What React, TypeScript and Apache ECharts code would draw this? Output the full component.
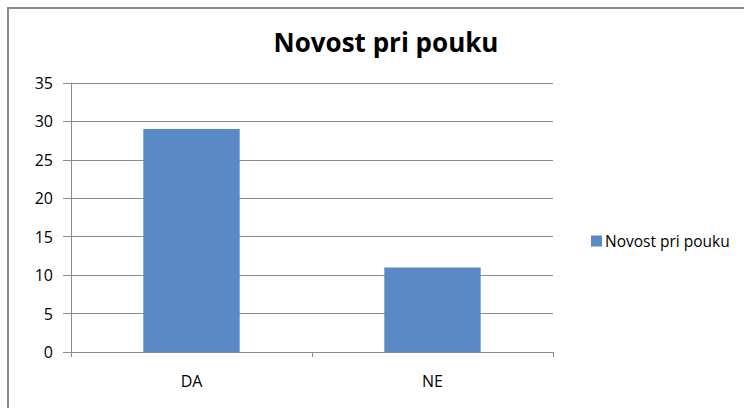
import React, { useEffect, useRef } from "react";
import * as echarts from "echarts";

const titleText = "Novost pri pouku";
const categories = ["DA", "NE"];
const seriesName = "Novost pri pouku";
const values = [29, 11];

export default function App() {
  const ref = useRef<HTMLDivElement>(null);
  useEffect(() => {
    if (!ref.current) return;
    const chart = echarts.init(ref.current, null, { renderer: "svg" });
    const font = "Open Sans";
    chart.setOption({
      animation: false,
      backgroundColor: "#ffffff",
      textStyle: { fontFamily: font },
      title: {
        text: titleText,
        left: 381,
        top: 24,
        textAlign: "center",
        textStyle: { fontFamily: font, fontSize: 26, fontWeight: "bold", color: "#000000" },
      },
      legend: {
        orient: "vertical",
        left: 586,
        top: 228,
        itemWidth: 11,
        itemHeight: 11,
        itemGap: 4,
        icon: "rect",
        textStyle: { fontFamily: font, fontSize: 15.5, color: "#000000", padding: [0, 0, 0, -2] },
        data: [seriesName],
      },
      graphic: [
        {
          type: "rect",
          shape: { x: 8, y: 8, width: 800, height: 500 },
          style: { fill: "none", stroke: "#8c8c8c", lineWidth: 2 },
          silent: true,
        },
      ],
      grid: { left: 71, right: 191, top: 83, bottom: 56, containLabel: false },
      xAxis: {
        type: "category",
        data: categories,
        axisLine: { lineStyle: { color: "#8c8c8c", width: 1 } },
        axisTick: { show: true, length: 5, lineStyle: { color: "#8c8c8c" } },
        axisLabel: { fontFamily: font, fontSize: 16, color: "#000000", margin: 21 },
      },
      yAxis: {
        type: "value",
        min: 0,
        max: 35,
        interval: 5,
        axisLine: { show: true, lineStyle: { color: "#8c8c8c", width: 1 } },
        axisTick: { show: true, length: 8, lineStyle: { color: "#8c8c8c" } },
        axisLabel: { fontFamily: font, fontSize: 16, color: "#000000", margin: 18 },
        splitLine: { show: true, lineStyle: { color: "#8c8c8c", width: 1 } },
      },
      series: [
        {
          name: seriesName,
          type: "bar",
          data: values,
          barWidth: "40%",
          itemStyle: { color: "#598ac6" },
        },
      ],
    });
    return () => chart.dispose();
  }, []);
  return (
    <div
      ref={ref}
      style={{ position: "fixed", left: 0, top: 0, width: 744, height: 408 }}
    />
  );
}
